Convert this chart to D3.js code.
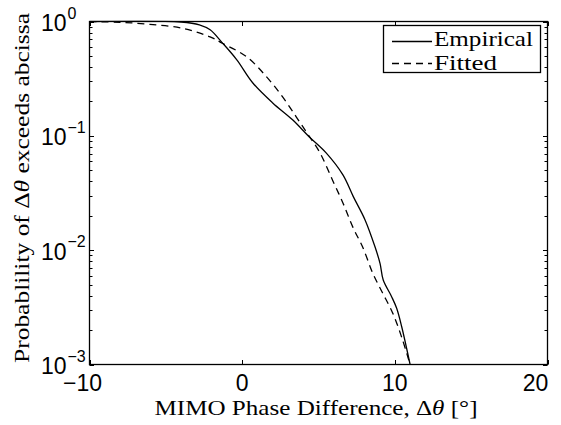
<!DOCTYPE html>
<html>
<head>
<meta charset="utf-8">
<script src="https://cdn.jsdelivr.net/npm/d3@7/dist/d3.min.js"></script>
<style>
  html, body { margin: 0; padding: 0; background: #fff; }
  svg { display: block; }
</style>
</head>
<body>
<svg id="chart" width="561" height="425"></svg>
<script>
// Phase difference (degrees) and exceedance probability for each curve
const empiricalTheta = [-10, -4.0, -2.8, -2.1, -1.3, -0.35, 0.7, 2.0, 3.3, 4.4, 5.5, 6.6, 7.28, 8.05, 8.7, 9.03, 9.24, 9.79, 10.12, 10.45, 11.0];
const empiricalProb  = [1.0, 0.99, 0.936, 0.846, 0.651, 0.462, 0.29, 0.194, 0.138, 0.0978, 0.0709, 0.0455, 0.0294, 0.0184, 0.0107, 0.00767, 0.00548, 0.00392, 0.0031, 0.00214, 0.001];
const fittedTheta = [-10, -8.0, -6.05, -3.9, -2.1, -1.3, 0.3, 1.6, 2.65, 3.55, 4.25, 5.1, 5.95, 6.6, 7.25, 7.9, 8.55, 9.2, 9.85, 10.45, 11.0];
const fittedProb  = [0.998, 0.984, 0.945, 0.872, 0.734, 0.645, 0.491, 0.328, 0.219, 0.146, 0.106, 0.0709, 0.0401, 0.0259, 0.0159, 0.0106, 0.0063, 0.00422, 0.00284, 0.00173, 0.001];

const xTicks = [-10, 0, 10, 20];
const yDecades = [0, -1, -2, -3];
const seriesNames = ["Empirical", "Fitted"];

const svg = d3.select("#chart");
const W = 561, H = 425;
svg.append("rect").attr("width", W).attr("height", H).attr("fill", "#fff");

const plotLeft = 89.5, plotRight = 547.5, plotTop = 21.5, plotBottom = 364.5;
const x = d3.scaleLinear().domain([-10, 20]).range([plotLeft, plotRight]);
const y = d3.scaleLog().domain([1e-3, 1]).range([plotBottom, plotTop]);

const sansFont = "'Liberation Sans', Arial, Helvetica, sans-serif";
const serifFont = "'Liberation Serif', 'Times New Roman', serif";

// Clip path for the curves
svg.append("defs").append("clipPath").attr("id", "plotClip")
  .append("rect").attr("x", plotLeft).attr("y", plotTop - 1)
  .attr("width", plotRight - plotLeft).attr("height", plotBottom - plotTop + 2);

// Ticks (inward, on all four sides)
const tickG = svg.append("g").attr("stroke", "#000").attr("stroke-width", 1);
const majorLen = 4.5, minorLen = 3;
xTicks.forEach(v => {
  const px = Math.round(x(v)) + 0.5;
  tickG.append("line").attr("x1", px).attr("x2", px).attr("y1", plotBottom).attr("y2", plotBottom - majorLen);
  tickG.append("line").attr("x1", px).attr("x2", px).attr("y1", plotTop).attr("y2", plotTop + majorLen);
});
const minorVals = [];
for (let e = -3; e < 0; e++) for (let m = 2; m <= 9; m++) minorVals.push(m * Math.pow(10, e));
yDecades.forEach(e => {
  const py = Math.round(y(Math.pow(10, e))) + 0.5;
  tickG.append("line").attr("x1", plotLeft).attr("x2", plotLeft + majorLen).attr("y1", py).attr("y2", py);
  tickG.append("line").attr("x1", plotRight).attr("x2", plotRight - majorLen).attr("y1", py).attr("y2", py);
});
minorVals.forEach(v => {
  const py = Math.round(y(v)) + 0.5;
  tickG.append("line").attr("x1", plotLeft).attr("x2", plotLeft + minorLen).attr("y1", py).attr("y2", py);
  tickG.append("line").attr("x1", plotRight).attr("x2", plotRight - minorLen).attr("y1", py).attr("y2", py);
});

// Curves
const line = d3.line()
  .x(d => x(d[0]))
  .y(d => y(d[1]))
  .curve(d3.curveCatmullRom.alpha(0.5));

const plot = svg.append("g").attr("clip-path", "url(#plotClip)");
plot.append("path")
  .datum(fittedTheta.map((t, i) => [t, fittedProb[i]]))
  .attr("d", line)
  .attr("fill", "none").attr("stroke", "#000").attr("stroke-width", 1.3)
  .attr("stroke-dasharray", "7,5");
plot.append("path")
  .datum(empiricalTheta.map((t, i) => [t, empiricalProb[i]]))
  .attr("d", line)
  .attr("fill", "none").attr("stroke", "#000").attr("stroke-width", 1.3);

// Axes box
svg.append("rect")
  .attr("x", plotLeft).attr("y", plotTop).attr("width", plotRight - plotLeft).attr("height", plotBottom - plotTop)
  .attr("fill", "none").attr("stroke", "#000").attr("stroke-width", 1.3);

// X tick labels; the end labels are nudged inward to stay inside the figure
const edgeNudge = d => (d === xTicks[0] ? -7 : d === xTicks[xTicks.length - 1] ? -12 : 0);
svg.append("g").selectAll("text").data(xTicks).join("text")
  .attr("x", d => x(d) + edgeNudge(d))
  .attr("y", 391)
  .attr("text-anchor", "middle")
  .attr("font-family", sansFont).attr("font-size", 23)
  .text(d => d < 0 ? "\u2212" + Math.abs(d) : String(d));

// Y tick labels as 10^k
const yl = svg.append("g").attr("font-family", sansFont);
yDecades.forEach(e => {
  const py = y(Math.pow(10, e));
  yl.append("text").attr("x", 66.5).attr("y", py + 9.5).attr("text-anchor", "end")
    .attr("font-size", 23).text("10");
  yl.append("text").attr("x", 67.5).attr("y", py - 3).attr("text-anchor", "start")
    .attr("font-size", 16).text(e === 0 ? "0" : "\u2212" + Math.abs(e));
});

// Axis titles
const xt = svg.append("text")
  .attr("x", 316).attr("y", 415).attr("text-anchor", "middle")
  .attr("font-family", serifFont).attr("font-size", 21)
  .attr("textLength", 323).attr("lengthAdjust", "spacingAndGlyphs");
xt.append("tspan").text("MIMO Phase Difference, \u0394");
xt.append("tspan").attr("font-style", "italic").text("\u03b8");
xt.append("tspan").text(" [\u00b0]");

const yt = svg.append("text")
  .attr("transform", "translate(29,188) rotate(-90)")
  .attr("text-anchor", "middle")
  .attr("font-family", serifFont).attr("font-size", 21)
  .attr("textLength", 350).attr("lengthAdjust", "spacingAndGlyphs");
yt.append("tspan").text("Probablility of \u0394");
yt.append("tspan").attr("font-style", "italic").text("\u03b8");
yt.append("tspan").text(" exceeds abcissa");

// Legend
const lg = svg.append("g");
lg.append("rect").attr("x", 383.5).attr("y", 25.5).attr("width", 157).attr("height", 47)
  .attr("fill", "#fff").attr("stroke", "#000").attr("stroke-width", 1.3);
const legendRows = [
  { name: seriesNames[0], dash: null, ly: 41.5, ty: 46, w: 99 },
  { name: seriesNames[1], dash: "7,5", ly: 63.5, ty: 69.5, w: 63 }
];
legendRows.forEach(r => {
  lg.append("line").attr("x1", 392).attr("x2", 432).attr("y1", r.ly).attr("y2", r.ly)
    .attr("stroke", "#000").attr("stroke-width", 1.3)
    .attr("stroke-dasharray", r.dash);
  lg.append("text").attr("x", 434).attr("y", r.ty)
    .attr("font-family", serifFont).attr("font-size", 21)
    .attr("textLength", r.w).attr("lengthAdjust", "spacingAndGlyphs")
    .text(r.name);
});
</script>
</body>
</html>
